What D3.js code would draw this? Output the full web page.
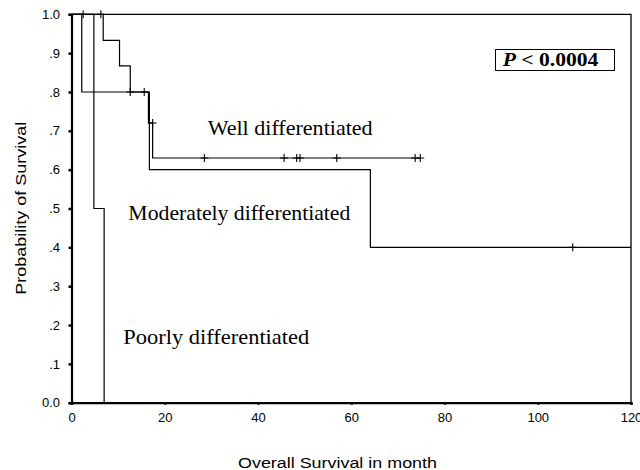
<!DOCTYPE html>
<html>
<head>
<meta charset="utf-8">
<script src="https://cdn.jsdelivr.net/npm/d3@7"></script>
<style>
  body { margin: 0; background: #fff; }
</style>
</head>
<body>
<div id="chart"></div>
<script>
// Kaplan-Meier steps: [month, survival]
const wellSteps = [[0, 1], [6.8, 0.933], [10.3, 0.867], [12.6, 0.8], [16.5, 0.72], [17.4, 0.63], [74.8, 0.63]];
const wellCensor = [[6.3, 1], [12.6, 0.8], [15.6, 0.8], [17.4, 0.72], [28.5, 0.63], [45.6, 0.63],
                    [48.3, 0.63], [49.0, 0.63], [56.9, 0.63], [73.7, 0.63], [74.8, 0.63]];
const moderateSteps = [[0, 1], [2.2, 0.8], [16.7, 0.6], [64.1, 0.4], [120, 0.4]];
const moderateCensor = [[107.5, 0.4]];
const poorSteps = [[0, 1], [4.8, 0.5], [7.0, 0], [7.0, 0]];
const poorCensor = [[2.5, 1]];

const xTicks = [0, 20, 40, 60, 80, 100, 120];
const yTicks = [0, 0.1, 0.2, 0.3, 0.4, 0.5, 0.6, 0.7, 0.8, 0.9, 1.0];
const yTickLabels = ['0.0', '.1', '.2', '.3', '.4', '.5', '.6', '.7', '.8', '.9', '1.0'];

const width = 640, height = 470;
const serif = 'Liberation Serif, Times New Roman, serif';
const sans = 'Liberation Sans, Arial, sans-serif';

const svg = d3.select('#chart').append('svg')
  .attr('width', width)
  .attr('height', height);

const x = d3.scaleLinear().domain([0, 120]).range([71.5, 631]);
const y = d3.scaleLinear().domain([0, 1]).range([402.7, 14.3]);

// thin frame on top and right
svg.append('path')
  .attr('d', `M${x(0)},${y(1)}H${x(120)}V${y(0)}`)
  .attr('fill', 'none')
  .attr('stroke', '#000')
  .attr('stroke-width', 1.3);

// axes
const xAxis = d3.axisBottom(x).tickValues(xTicks).tickSize(2).tickPadding(8);
const yAxis = d3.axisLeft(y).tickValues(yTicks)
  .tickFormat((d, i) => yTickLabels[i]).tickSize(3).tickPadding(8.5);

const gx = svg.append('g')
  .attr('transform', `translate(0, ${y(0)})`)
  .call(xAxis);
const gy = svg.append('g')
  .attr('transform', `translate(${x(0)}, 0)`)
  .call(yAxis);

for (const g of [gx, gy]) {
  g.select('.domain').attr('stroke-width', 2.2);
  g.selectAll('.tick line').attr('stroke-width', 2.5);
  g.selectAll('.tick text')
    .attr('font-family', sans)
    .attr('font-size', '13px')
    .attr('fill', '#000');
}

// survival curves
const line = d3.line()
  .x(d => x(d[0]))
  .y(d => y(d[1]))
  .curve(d3.curveStepAfter);

const curves = [
  {steps: wellSteps, censor: wellCensor},
  {steps: moderateSteps, censor: moderateCensor},
  {steps: poorSteps, censor: poorCensor}
];

for (const c of curves) {
  svg.append('path')
    .datum(c.steps)
    .attr('d', line)
    .attr('fill', 'none')
    .attr('stroke', '#000')
    .attr('stroke-width', 1.2);

  svg.selectAll(null)
    .data(c.censor)
    .enter()
    .append('path')
    .attr('d', d => `M${x(d[0]) - 4},${y(d[1])}h8M${x(d[0])},${y(d[1]) - 4}v8`)
    .attr('stroke', '#000')
    .attr('stroke-width', 1.1);
}

// curve labels (the reference type is a bit wide, so fit each to its width)
const labels = [
  {text: 'Well differentiated', t: 29.2, p: 0.69, w: 165},
  {text: 'Moderately differentiated', t: 12.2, p: 0.47, w: 222},
  {text: 'Poorly differentiated', t: 11.1, p: 0.15, w: 186}
];

svg.selectAll('.lbl')
  .data(labels)
  .enter()
  .append('text')
  .attr('x', d => x(d.t))
  .attr('y', d => y(d.p))
  .attr('font-family', serif)
  .attr('font-size', '21px')
  .attr('textLength', d => d.w)
  .attr('lengthAdjust', 'spacingAndGlyphs')
  .text(d => d.text);

// p-value box
svg.append('rect')
  .attr('x', 495.5)
  .attr('y', 49.5)
  .attr('width', 119)
  .attr('height', 21)
  .attr('fill', '#fff')
  .attr('stroke', '#000')
  .attr('stroke-width', 1);

const pText = svg.append('text')
  .attr('x', 502.7)
  .attr('y', 65.7)
  .attr('font-family', serif)
  .attr('font-size', '18px')
  .attr('font-weight', 'bold');
pText.append('tspan').attr('font-style', 'italic').text('P');
pText.append('tspan').text(' < 0.0004');
const pW = pText.node().getBBox().width;
pText.attr('transform', `translate(502.7,0) scale(${97 / pW},1) translate(-502.7,0)`);

// axis titles
svg.append('text')
  .attr('x', 337.5)
  .attr('y', 467.5)
  .attr('text-anchor', 'middle')
  .attr('font-family', sans)
  .attr('font-size', '15.5px')
  .attr('textLength', 199)
  .attr('lengthAdjust', 'spacingAndGlyphs')
  .text('Overall Survival in month');

svg.append('text')
  .attr('transform', 'translate(26, 208.3) rotate(-90)')
  .attr('text-anchor', 'middle')
  .attr('font-family', sans)
  .attr('font-size', '15.5px')
  .attr('textLength', 173)
  .attr('lengthAdjust', 'spacingAndGlyphs')
  .text('Probability of Survival');
</script>
</body>
</html>
